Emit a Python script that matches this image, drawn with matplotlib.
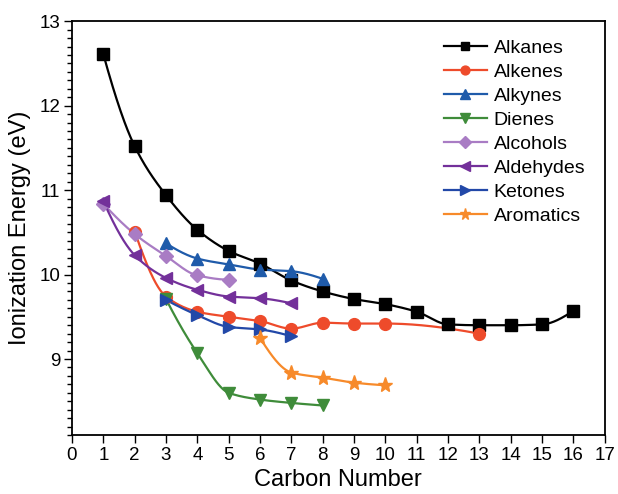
import numpy as np
import matplotlib
matplotlib.use("Agg")
import matplotlib.pyplot as plt
from matplotlib.ticker import MultipleLocator

plt.rcParams['font.family'] = ['Liberation Sans', 'DejaVu Sans']

# ---- data ----
alkanes_x = [1, 2, 3, 4, 5, 6, 7, 8, 9, 10, 11, 12, 13, 14, 15, 16]
alkanes_y = [12.61, 11.52, 10.94, 10.53, 10.28, 10.13, 9.93, 9.80, 9.71, 9.65, 9.56, 9.41, 9.40, 9.40, 9.41, 9.57]
alkenes_x = [2, 3, 4, 5, 6, 7, 8, 9, 10, 13]
alkenes_y = [10.51, 9.74, 9.56, 9.50, 9.45, 9.36, 9.43, 9.42, 9.42, 9.30]
alkynes_x = [3, 4, 5, 6, 7, 8]
alkynes_y = [10.37, 10.19, 10.12, 10.06, 10.04, 9.95]
dienes_x = [3, 4, 5, 6, 7, 8]
dienes_y = [9.71, 9.07, 8.60, 8.52, 8.48, 8.45]
alcohols_x = [1, 2, 3, 4, 5]
alcohols_y = [10.84, 10.48, 10.22, 9.99, 9.94]
aldehydes_x = [1, 2, 3, 4, 5, 6, 7]
aldehydes_y = [10.87, 10.23, 9.96, 9.82, 9.74, 9.72, 9.66]
ketones_x = [3, 4, 5, 6, 7]
ketones_y = [9.70, 9.52, 9.38, 9.35, 9.27]
aromatics_x = [6, 7, 8, 9, 10]
aromatics_y = [9.25, 8.84, 8.78, 8.72, 8.69]

names = ['Alkanes', 'Alkenes', 'Alkynes', 'Dienes', 'Alcohols', 'Aldehydes', 'Ketones', 'Aromatics']
xs = [alkanes_x, alkenes_x, alkynes_x, dienes_x, alcohols_x, aldehydes_x, ketones_x, aromatics_x]
ys = [alkanes_y, alkenes_y, alkynes_y, dienes_y, alcohols_y, aldehydes_y, ketones_y, aromatics_y]
colors = ['#000000', '#EE4B2B', '#1F5BAA', '#3F8C3A', '#A97CC4', '#73309A', '#2248A8', '#F78A2A']
markers = ['s', 'o', '^', 'v', 'D', '<', '>', '*']
msizes = [8, 8.5, 9, 9, 7.5, 9, 9, 11]


def pchip(x, y, n=40):
    x = np.asarray(x, float)
    y = np.asarray(y, float)
    h = np.diff(x)
    d = np.diff(y) / h
    m = np.zeros_like(y)
    for k in range(1, len(x) - 1):
        if d[k - 1] * d[k] <= 0:
            m[k] = 0.0
        else:
            w1 = 2 * h[k] + h[k - 1]
            w2 = h[k] + 2 * h[k - 1]
            m[k] = (w1 + w2) / (w1 / d[k - 1] + w2 / d[k])
    m[0] = d[0]
    m[-1] = d[-1]
    if len(x) > 2:
        m0 = ((2 * h[0] + h[1]) * d[0] - h[0] * d[1]) / (h[0] + h[1])
        if np.sign(m0) != np.sign(d[0]):
            m0 = 0
        elif np.sign(d[0]) != np.sign(d[1]) and abs(m0) > abs(3 * d[0]):
            m0 = 3 * d[0]
        m[0] = m0
        mn = ((2 * h[-1] + h[-2]) * d[-1] - h[-1] * d[-2]) / (h[-1] + h[-2])
        if np.sign(mn) != np.sign(d[-1]):
            mn = 0
        elif np.sign(d[-1]) != np.sign(d[-2]) and abs(mn) > abs(3 * d[-1]):
            mn = 3 * d[-1]
        m[-1] = mn
    xo, yo = [], []
    for k in range(len(x) - 1):
        t = np.linspace(0, 1, n, endpoint=(k == len(x) - 2))
        hk = h[k]
        h00 = 2 * t**3 - 3 * t**2 + 1
        h10 = t**3 - 2 * t**2 + t
        h01 = -2 * t**3 + 3 * t**2
        h11 = t**3 - t**2
        xo.append(x[k] + t * hk)
        yo.append(h00 * y[k] + h10 * hk * m[k] + h01 * y[k + 1] + h11 * hk * m[k + 1])
    return np.concatenate(xo), np.concatenate(yo)


fig = plt.figure(figsize=(6.18, 4.94), dpi=100)
ax = fig.add_axes([0.1165, 0.1194, 0.862, 0.8376])

handles = []
for nm, x, y, c, mk, ms in zip(names, xs, ys, colors, markers, msizes):
    sx, sy = pchip(x, y)
    ax.plot(sx, sy, color=c, lw=1.6, zorder=2)
    ax.plot(x, y, linestyle='none', marker=mk, color=c, ms=ms, mec=c, zorder=3)
    h, = ax.plot([], [], color=c, lw=1.6, marker=mk, ms=ms, mec=c, label=nm)
    handles.append(h)

ax.set_xlim(0, 17)
ax.set_ylim(8.1, 13)
ax.xaxis.set_major_locator(MultipleLocator(1))
ax.yaxis.set_major_locator(MultipleLocator(1))
ax.yaxis.set_minor_locator(MultipleLocator(0.1))
ax.tick_params(axis='both', which='major', direction='out', length=5.5, width=1, labelsize=13.5, pad=3)
ax.tick_params(axis='y', which='minor', direction='out', length=3.5, width=1)
ax.tick_params(top=False, right=False)
for s in ax.spines.values():
    s.set_linewidth(1.3)

ax.set_xlabel('Carbon Number', fontsize=17, labelpad=4)
ax.set_ylabel('Ionization Energy (eV)', fontsize=17, labelpad=6)

ax.legend(handles=handles, loc='upper right', bbox_to_anchor=(0.989, 0.99), frameon=False,
          fontsize=14, handlelength=2.2, handletextpad=0.35, labelspacing=0.33,
          markerscale=0.75, borderaxespad=0.3)

fig.savefig('out.png', dpi=100)
